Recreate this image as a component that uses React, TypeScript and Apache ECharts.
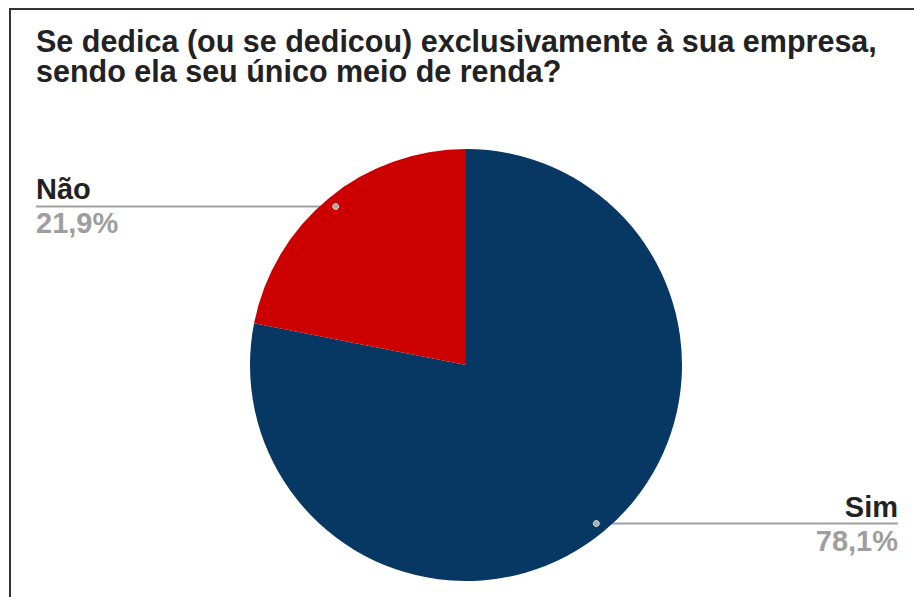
import React, { useEffect, useRef } from "react";
import * as echarts from "echarts";

const titleLines = [
  "Se dedica (ou se dedicou) exclusivamente à sua empresa,",
  "sendo ela seu único meio de renda?",
];
const categories = ["Sim", "Não"];
const values = [78.1, 21.9];
const colors = ["#073763", "#cc0000"];

const W = 914;
const H = 597;
const CX = 466;
const CY = 365;
const R = 216;
const DOT_FRAC = 0.95;
const LEFT_EDGE = 36;
const RIGHT_EDGE = 898;
const FONT = "Liberation Sans, Arial, sans-serif";

function midAngles(): number[] {
  const total = values.reduce((a, b) => a + b, 0);
  let start = 90;
  return values.map((v) => {
    const span = (v / total) * 360;
    const mid = start - span / 2;
    start -= span;
    return (mid * Math.PI) / 180;
  });
}

export default function App() {
  const ref = useRef<HTMLDivElement>(null);
  useEffect(() => {
    document.body.style.margin = "0";
    if (!ref.current) return;
    const chart = echarts.init(ref.current, undefined, { renderer: "svg" });
    const mids = midAngles();
    const dots = mids.map((a) => [CX + DOT_FRAC * R * Math.cos(a), CY - DOT_FRAC * R * Math.sin(a)]);
    chart.setOption({
      animation: false,
      backgroundColor: "#ffffff",
      title: {
        text: titleLines.join("\n"),
        left: 31,
        top: 21,
        textStyle: {
          fontFamily: FONT,
          fontSize: 30.5,
          fontWeight: "bold",
          color: "#222222",
          lineHeight: 30,
        },
      },
      graphic: [
        {
          type: "rect",
          shape: { x: 10, y: 9, width: 940, height: 620 },
          style: { fill: "none", stroke: "#333333", lineWidth: 2 },
          silent: true,
        },
        ...dots.map((p) => ({
          type: "circle",
          shape: { cx: p[0], cy: p[1], r: 3 },
          style: { fill: "#aaaaaa", stroke: "#dddddd", lineWidth: 1 },
          z: 100,
          silent: true,
        })),
      ],
      series: [
        {
          type: "pie",
          center: [CX, CY],
          radius: R,
          startAngle: 90,
          clockwise: true,
          avoidLabelOverlap: false,
          emphasis: { disabled: true },
          itemStyle: { borderWidth: 0 },
          data: categories.map((c, i) => ({
            name: c,
            value: values[i],
            itemStyle: { color: colors[i] },
          })),
          label: {
            show: true,
            formatter: (p: any) =>
              "{n|" + p.name + "}\n{p|" + p.value.toFixed(1).replace(".", ",") + "%}",
            rich: {
              n: {
                fontFamily: FONT,
                fontSize: 29,
                fontWeight: "bold",
                color: "#222222",
                lineHeight: 34,
              },
              p: {
                fontFamily: FONT,
                fontSize: 29,
                fontWeight: "bold",
                color: "#9e9e9e",
                lineHeight: 34,
              },
            },
          },
          labelLine: {
            show: true,
            lineStyle: { color: "#a0a0a0", width: 2 },
          },
          labelLayout: (params: any) => {
            const i = params.dataIndex;
            const p = dots[i];
            const left = p[0] < CX;
            const ex = left ? LEFT_EDGE : RIGHT_EDGE;
            return {
              x: ex,
              y: p[1],
              align: left ? "left" : "right",
              verticalAlign: "middle",
              labelLinePoints: [
                [p[0], p[1]],
                [p[0], p[1]],
                [ex, p[1]],
              ],
            };
          },
        },
      ],
    });
    return () => chart.dispose();
  }, []);
  return <div ref={ref} style={{ width: W, height: H }} />;
}
